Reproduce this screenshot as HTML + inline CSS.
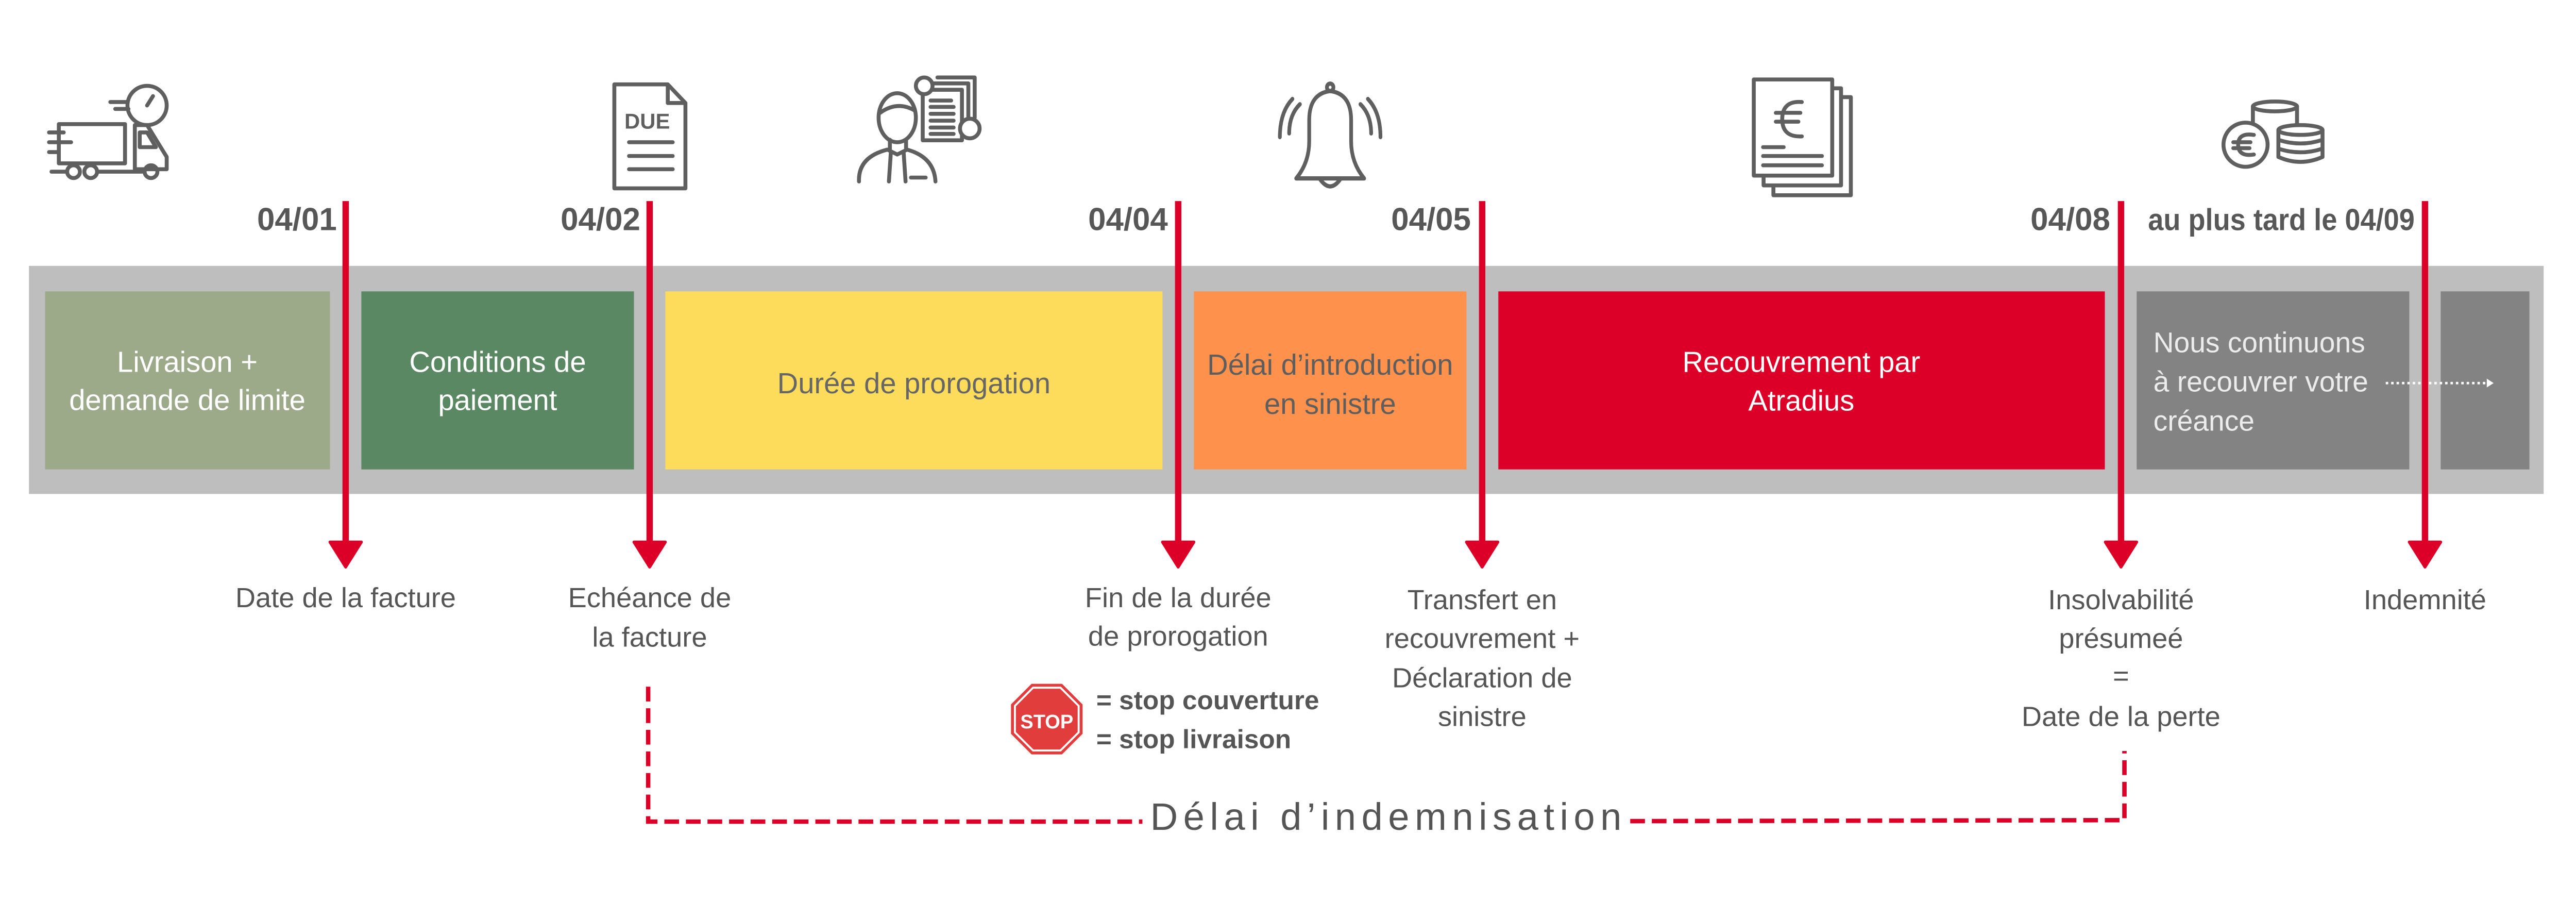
<!DOCTYPE html>
<html><head><meta charset="utf-8"><style>
html,body{margin:0;padding:0;background:#fff;width:100%;overflow:hidden;}
svg{display:block;width:100vw;height:calc(100vw * 1781 / 5254);}
text{font-family:"Liberation Sans",sans-serif;}
</style></head><body>
<svg viewBox="0 0 5254 1781" preserveAspectRatio="none" xmlns="http://www.w3.org/2000/svg">
<rect x="59" y="542" width="5129" height="465" fill="#bebebe"/>
<rect x="92" y="594" width="581" height="363" fill="#9caa8a"/>
<rect x="737" y="594" width="556" height="363" fill="#5a8862"/>
<rect x="1357" y="594" width="1014" height="363" fill="#fddc5c"/>
<rect x="2435" y="594" width="556" height="363" fill="#fe914b"/>
<rect x="3056" y="594" width="1237" height="363" fill="#dc0029"/>
<rect x="4358" y="594" width="556" height="363" fill="#838383"/>
<rect x="4978" y="594" width="181" height="363" fill="#838383"/>

<g font-size="59" text-anchor="middle">
<text x="382" y="758" fill="#fff">Livraison +</text>
<text x="382" y="836" fill="#fff">demande de limite</text>
<text x="1015" y="758" fill="#fff">Conditions de</text>
<text x="1015" y="836" fill="#fff">paiement</text>
<text x="1864" y="802" fill="#666">Durée de prorogation</text>
<text x="2713" y="764" fill="#5e5e5e">Délai d’introduction</text>
<text x="2713" y="844" fill="#5e5e5e">en sinistre</text>
<text x="3674" y="758" fill="#fff">Recouvrement par</text>
<text x="3674" y="837" fill="#fff">Atradius</text>
</g>
<g font-size="58" fill="#ececec">
<text x="4392" y="718">Nous continuons</text>
<text x="4392" y="798">à recouvrer votre</text>
<text x="4392" y="878">créance</text>
</g>
<line x1="4866" y1="781" x2="5072" y2="781" stroke="#fff" stroke-width="5" stroke-dasharray="5,6"/>
<polygon points="5072,772 5086,781 5072,790" fill="#fff"/>

<g font-size="65" font-weight="bold" fill="#575757" text-anchor="end">
<text x="687" y="469">04/01</text>
<text x="1306" y="469">04/02</text>
<text x="2382" y="469">04/04</text>
<text x="3000" y="469">04/05</text>
<text x="4304" y="469">04/08</text>
</g>
<text x="4381" y="469" font-size="62" font-weight="bold" fill="#575757" textLength="544" lengthAdjust="spacingAndGlyphs">au plus tard le 04/09</text>

<g fill="#dc0029" stroke="#dc0029">
<line x1="705" y1="410" x2="705" y2="1110" stroke-width="13"/>
<polygon points="673,1105 737,1105 705,1156" stroke-width="6" stroke-linejoin="round"/>
<line x1="1325" y1="410" x2="1325" y2="1110" stroke-width="13"/>
<polygon points="1293,1105 1357,1105 1325,1156" stroke-width="6" stroke-linejoin="round"/>
<line x1="2403" y1="410" x2="2403" y2="1110" stroke-width="13"/>
<polygon points="2371,1105 2435,1105 2403,1156" stroke-width="6" stroke-linejoin="round"/>
<line x1="3023" y1="410" x2="3023" y2="1110" stroke-width="13"/>
<polygon points="2991,1105 3055,1105 3023,1156" stroke-width="6" stroke-linejoin="round"/>
<line x1="4326" y1="410" x2="4326" y2="1110" stroke-width="13"/>
<polygon points="4294,1105 4358,1105 4326,1156" stroke-width="6" stroke-linejoin="round"/>
<line x1="4946" y1="410" x2="4946" y2="1110" stroke-width="13"/>
<polygon points="4914,1105 4978,1105 4946,1156" stroke-width="6" stroke-linejoin="round"/>
</g>

<g font-size="57" fill="#555" text-anchor="middle">
<text x="705" y="1238">Date de la facture</text>
<text x="1325" y="1238">Echéance de</text>
<text x="1325" y="1318">la facture</text>
<text x="2403" y="1238">Fin de la durée</text>
<text x="2403" y="1316">de prorogation</text>
<text x="3023" y="1242">Transfert en</text>
<text x="3023" y="1321">recouvrement +</text>
<text x="3023" y="1401">Déclaration de</text>
<text x="3023" y="1480">sinistre</text>
<text x="4326" y="1242">Insolvabilité</text>
<text x="4326" y="1321">présumeé</text>
<text x="4326" y="1397">=</text>
<text x="4326" y="1480">Date de la perte</text>
<text x="4946" y="1242">Indemnité</text>
</g>

<polygon points="2104,1394 2166,1394 2208,1436 2208,1496 2166,1538 2104,1538 2062,1496 2062,1436" fill="#e23d3d"/>
<polygon points="2107,1402 2163,1402 2200,1439 2200,1493 2163,1530 2107,1530 2070,1493 2070,1439" fill="none" stroke="#fff" stroke-width="4"/>
<text x="2135" y="1485" font-size="40" font-weight="bold" fill="#fff" text-anchor="middle">STOP</text>
<g font-size="54" font-weight="bold" fill="#555">
<text x="2236" y="1446">= stop couverture</text>
<text x="2236" y="1525">= stop livraison</text>
</g>

<g fill="none" stroke="#dc0029" stroke-width="9" stroke-dasharray="30,14">
<polyline points="1322,1400 1322,1675 2330,1675"/>
<polyline points="3325,1674 4333,1672 4333,1531"/>
</g>
<text x="2346" y="1692" font-size="78" fill="#555" letter-spacing="11">Délai d’indemnisation</text>

<g fill="none" stroke="#5f5f5f" stroke-width="8" stroke-linecap="round" stroke-linejoin="round">
<rect x="120" y="253" width="135" height="80"/>
<path d="M275 255 H300 L340 320 V345 H275 Z"/>
<path d="M285 270 H300 L318 300 H285 Z"/>
<circle cx="150" cy="350" r="13"/><circle cx="185" cy="350" r="13"/><circle cx="308" cy="350" r="13"/>
<path d="M200 350 H290 M105 350 H135"/>
<path d="M100 270 H130 M100 290 H145 M100 310 H120"/>
<circle cx="300" cy="215" r="40"/><path d="M300 215 L312 196 M225 208 H260 M235 222 H262"/>
<path d="M1253 172 H1362 L1398 210 V384 H1253 Z M1362 172 V210 H1398"/>
<path d="M1283 290 H1372 M1283 318 H1372 M1283 345 H1372"/>
<ellipse cx="1830" cy="240" rx="38" ry="50"/>
<path d="M1795 230 Q1830 205 1865 225"/>
<path d="M1815 285 V305 M1848 285 V305 M1752 370 Q1750 320 1810 305 L1830 315 L1850 305 Q1905 320 1908 370 M1817 310 L1813 370 M1843 310 L1847 370 M1858 362 H1888"/>
<rect x="1882" y="183" width="80" height="103"/>
<path d="M1898 205 H1940 M1898 218 H1945 M1898 232 H1945 M1898 246 H1945 M1898 260 H1945 M1898 273 H1945"/>
<path d="M1905 170 H1975 V250 M1912 158 H1988 V240"/>
<circle cx="1885" cy="175" r="17" fill="#fff"/><circle cx="1978" cy="262" r="20" fill="#fff"/>
<g transform="translate(2713,178) scale(0.95,1.08) translate(-2713,-128)">
<path d="M2640 300 Q2668 270 2668 230 V190 Q2668 140 2713 135 Q2758 140 2758 190 V230 Q2758 270 2786 300 Z"/>
<path d="M2690 300 Q2713 330 2736 300"/><circle cx="2713" cy="128" r="7"/>
<path d="M2625 215 Q2625 180 2648 160 M2605 222 Q2605 175 2632 150 M2801 215 Q2801 180 2778 160 M2821 222 Q2821 175 2794 150"/>
</g>
<rect x="3577" y="162" width="160" height="196"/>
<path d="M3737 180 H3755 V378 H3597 V358 M3755 198 H3775 V398 H3617 V378"/>
<path d="M3675 208 Q3635 205 3635 243 Q3635 280 3675 278 M3622 230 H3672 M3622 248 H3668 M3596 300 H3638 M3596 318 H3716 M3596 337 H3716"/>
<ellipse cx="4640" cy="217" rx="45" ry="10"/><path d="M4595 217 V290 M4685 217 V255"/>
<ellipse cx="4692" cy="265" rx="45" ry="10" fill="#fff"/><path d="M4647 265 V320 Q4692 340 4737 320 V265 M4647 285 Q4692 300 4737 285 M4647 303 Q4692 318 4737 303"/>
<circle cx="4580" cy="295" r="45" fill="#fff"/>
<path d="M4597 275 Q4565 270 4565 295 Q4565 320 4597 315 M4555 290 H4590 M4555 302 H4588"/>
</g>
<text x="1320" y="262" font-size="44" font-weight="bold" fill="#5f5f5f" text-anchor="middle" font-family="Liberation Serif, serif">DUE</text>
</svg>
</body></html>
